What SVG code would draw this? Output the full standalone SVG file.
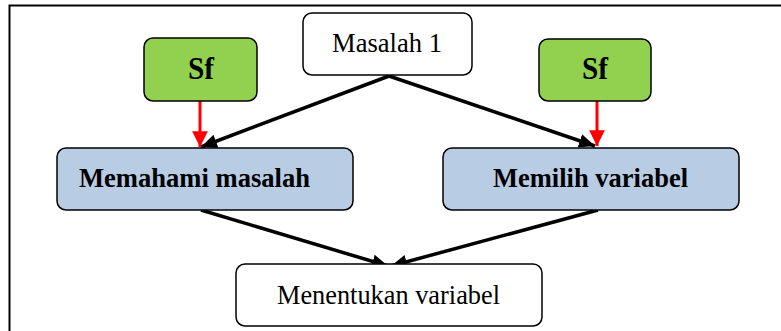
<svg xmlns="http://www.w3.org/2000/svg" width="781" height="331" viewBox="0 0 781 331">
<style>
.box{stroke:#000;stroke-width:1.5}
.w{fill:#fff}
.g{fill:#92D050}
.b{fill:#B8CCE4}
.t{font-family:"Liberation Serif","Times New Roman",serif;font-size:28px;text-anchor:middle;fill:#000}
.bold{font-weight:bold}
.k{stroke:#000;stroke-width:3.5;fill:none}
.r{stroke:#FF0000;stroke-width:3;fill:none}
</style>
<defs>
<marker id="ak" markerUnits="userSpaceOnUse" markerWidth="18" markerHeight="16" refX="16" refY="7" orient="auto" viewBox="0 0 18 14">
<path d="M0,0 L16,7 L0,14 Z" fill="#000"/>
</marker>
<marker id="ar" markerUnits="userSpaceOnUse" markerWidth="18" markerHeight="16" refX="14" refY="7" orient="auto" viewBox="0 0 16 14">
<path d="M0,0 L14,7 L0,14 Z" fill="#FF0000"/>
</marker>
</defs>
<rect width="781" height="331" fill="#fff"/>
<path d="M9.5,331 V5.5 H781" fill="none" stroke="#000" stroke-width="2"/>
<g id="connectors">
<line class="k" x1="389" y1="76" x2="201" y2="147" marker-end="url(#ak)"/>
<line class="k" x1="389" y1="76" x2="595" y2="146" marker-end="url(#ak)"/>
<line class="r" x1="200" y1="101" x2="200" y2="147" marker-end="url(#ar)"/>
<line class="r" x1="597" y1="101" x2="597" y2="146" marker-end="url(#ar)"/>
<line class="k" x1="201" y1="210" x2="388" y2="266" marker-end="url(#ak)"/>
<line class="k" x1="598" y1="210" x2="391" y2="266" marker-end="url(#ak)"/>
</g>
<g id="masalah1">
<rect class="box w" x="303" y="13" width="169" height="62" rx="9"/>
<text class="t" x="387" y="52" textLength="110" lengthAdjust="spacingAndGlyphs">Masalah 1</text>
</g>
<g id="sf-left">
<rect class="box g" x="144" y="38" width="113" height="63" rx="9"/>
<text class="t bold" x="201" y="79" style="font-size:31px" textLength="26" lengthAdjust="spacingAndGlyphs">Sf</text>
</g>
<g id="sf-right">
<rect class="box g" x="539" y="39" width="112" height="62" rx="9"/>
<text class="t bold" x="595" y="79" style="font-size:31px" textLength="26" lengthAdjust="spacingAndGlyphs">Sf</text>
</g>
<g id="memahami">
<rect class="box b" x="57" y="148" width="296" height="62" rx="9"/>
<text class="t bold" x="194.5" y="187" textLength="231" lengthAdjust="spacingAndGlyphs">Memahami masalah</text>
</g>
<g id="memilih">
<rect class="box b" x="443" y="148" width="296" height="62" rx="9"/>
<text class="t bold" x="590.5" y="187" textLength="195" lengthAdjust="spacingAndGlyphs">Memilih variabel</text>
</g>
<g id="menentukan">
<rect class="box w" x="236" y="264" width="306" height="62" rx="9"/>
<text class="t" x="388.5" y="304" textLength="223" lengthAdjust="spacingAndGlyphs">Menentukan variabel</text>
</g>
</svg>
